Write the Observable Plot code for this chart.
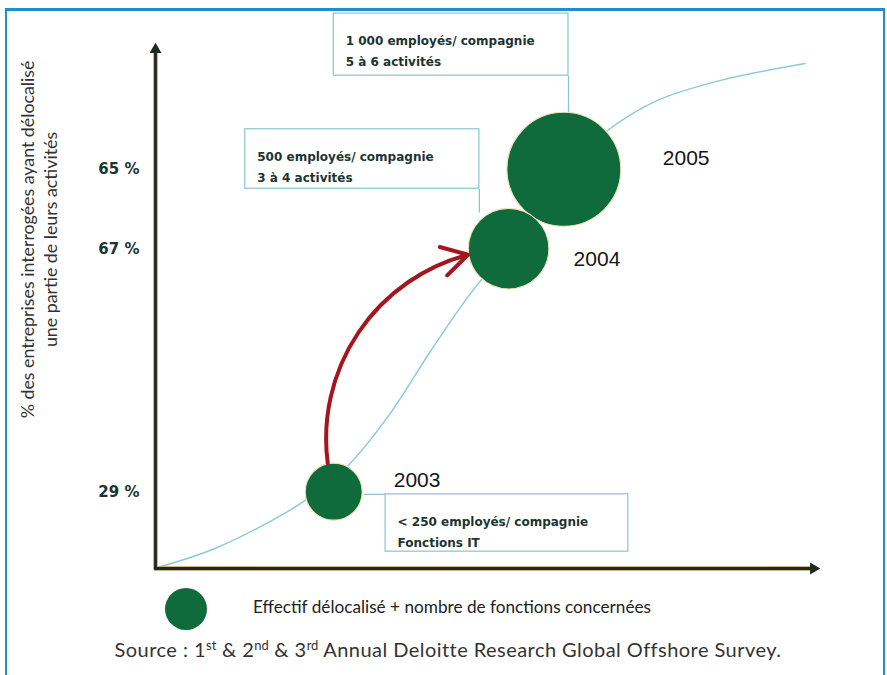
<!DOCTYPE html>
<html>
<head>
<meta charset="utf-8">
<script src="https://cdn.jsdelivr.net/npm/d3@7"></script>
<script src="https://cdn.jsdelivr.net/npm/@observablehq/plot@0.6"></script>
<style>
  html, body { margin: 0; padding: 0; background: #fff; }
  #page { position: relative; width: 887px; height: 675px; overflow: hidden; background: #fff; }
  #frame { position: absolute; left: 5px; top: 8px; width: 880px; height: 700px; box-sizing: border-box;
           border-left: 2.5px solid #1d8fd0; border-top: 3px solid #1d8fd0; border-right: 2.5px solid #1d8fd0; pointer-events: none; }
  #chart { position: absolute; left: 0; top: 0; }
  #legend { position: absolute; left: 0; top: 586px; width: 887px; height: 46px; font-family: Lato, sans-serif; }
  #legend svg { position: absolute; left: 164px; top: 1px; }
  #legend span { position: absolute; left: 253px; top: 10px; font-size: 17.2px; color: #222; white-space: nowrap; }
  #source { position: absolute; left: 0; top: 637px; width: 896px; text-align: center; font-family: Lato, sans-serif; font-size: 20px; letter-spacing: 0.45px; color: #333; white-space: nowrap; }
  #source sup { font-size: 13px; vertical-align: 7px; line-height: 0; letter-spacing: 0; }
</style>
</head>
<body>
<div id="page">
  <div id="chart"></div>
  <div id="legend"></div>
  <div id="source">Source : 1<sup>st</sup> &amp; 2<sup>nd</sup> &amp; 3<sup>rd</sup> Annual Deloitte Research Global Offshore Survey.</div>
  <div id="frame"></div>
</div>
<script>
// ---- Data ----
const years = ["2003", "2004", "2005"];
const employees = [250, 500, 1000];          // bubble size: employees per company
const pctLabels = ["29 %", "67 %", "65 %"];  // y tick labels as printed
const xLevel = [26.8, 53.1, 61.4];           // conceptual position along the x axis (0–100)
const yLevel = [14.6, 60.8, 75.9];           // conceptual position along the y axis (0–100)
const noteLines = [
  "< 250 employés/ compagnie\nFonctions IT",
  "500 employés/ compagnie\n3 à 4 activités",
  "1 000 employés/ compagnie\n5 à 6 activités"
];
// annotation boxes (axis units)
const noteX1 = [34.6, 13.5, 26.8];
const noteX2 = [71.1, 48.7, 62.1];
const noteY1 = [3.2, 72.2, 93.7];
const noteY2 = [14.1, 83.5, 105.5];
// leader lines from boxes to bubbles (axis units)
const leadX1 = [31.3, 48.7, 62.1];
const leadX2 = [34.6, 48.7, 62.1];
const leadY1 = [14.1, 72.2, 93.7];
const leadY2 = [14.1, 67.7, 86.5];
// faint S-curve (axis units)
const curveX = [0.3, 9.3, 21.4, 26.8, 29.3, 35.3, 41.4, 46.9, 51.9, 57.1, 62.4, 68.0, 75.5, 85.0, 97.7];
const curveY = [0.2, 4.0, 12.0, 17.1, 20.0, 29.5, 41.4, 51.5, 59.5, 68.1, 76.6, 83.3, 89.0, 92.8, 96.0];
const yTitle = "% des entreprises interrogées ayant délocalisé\nune partie de leurs activités";
const legendLabel = "Effectif délocalisé + nombre de fonctions concernées";

// ---- Tables built from the arrays ----
const bubbles = years.map((year, i) => ({year, employees: employees[i], x: xLevel[i], y: yLevel[i], pct: pctLabels[i]}));
const notes = noteLines.map((text, i) => ({text, x1: noteX1[i], x2: noteX2[i], y1: noteY1[i], y2: noteY2[i]}));
const leaders = leadX1.map((d, i) => ({x1: leadX1[i], x2: leadX2[i], y1: leadY1[i], y2: leadY2[i]}));
const curve = curveX.map((x, i) => ({x, y: curveY[i]}));
const yearShift = [[60, -11], [65, 11], [99, -11]];
const green = "#0f6a3c";
const axisColor = "#1d2a21";

const plot = Plot.plot({
  width: 887, height: 590,
  marginLeft: 155, marginRight: 67, marginTop: 42, marginBottom: 22,
  x: {domain: [0, 100], axis: null},
  y: {domain: [0, 100], axis: null},
  r: {domain: [0, 1000], range: [0, 57]},
  style: {background: "transparent", overflow: "visible"},
  marks: [
    Plot.text([yTitle], {frameAnchor: "left", textAnchor: "middle", lineAnchor: "middle", rotate: -90, dx: -117, dy: -66,
      fontFamily: "Lato", fontSize: 17.8, lineHeight: 1.3, fill: "#333"}),
    Plot.line(curve, {x: "x", y: "y", curve: "catmull-rom", stroke: "#8ccbd3", strokeWidth: 1.5}),
    Plot.link(leaders, {x1: "x1", y1: "y1", x2: "x2", y2: "y2", stroke: "#86c6cf", strokeWidth: 1.2}),
    Plot.rect(notes, {x1: "x1", x2: "x2", y1: "y1", y2: "y2", fill: "white", stroke: "#86c6cf", strokeWidth: 1.2}),
    Plot.text(notes, {x: "x1", y: "y2", text: "text", textAnchor: "start", lineAnchor: "top", dx: 12, dy: 17,
      fontFamily: "DejaVu Sans", fontWeight: "bold", fontSize: 12, lineHeight: 1.75, fill: "#1b3531"}),
    Plot.dot(bubbles, {x: "x", y: "y", r: "employees", fill: green, stroke: "#eee3b8", strokeWidth: 1.2}),
    ...bubbles.map((b, i) => Plot.text([b], {x: "x", y: "y", text: "year", textAnchor: "start", dx: yearShift[i][0], dy: yearShift[i][1],
      fontFamily: "Liberation Sans", fontSize: 21, fill: "#151515"})),
    Plot.arrow([{a: bubbles[0], b: bubbles[1]}], {x1: d => d.a.x, y1: d => d.a.y, x2: d => d.b.x, y2: d => d.b.y,
      bend: 52, insetStart: 29, insetEnd: 41, headLength: 11, headAngle: 60, stroke: "#a3161d", strokeWidth: 4}),
    // axes
    Plot.arrow([{x1: 0, y1: 0, x2: 0, y2: 100}, {x1: 0, y1: 0, x2: 100, y2: 0}], {x1: "x1", y1: "y1", x2: "x2", y2: "y2",
      headLength: 0, insetEnd: 8, stroke: "#c2a060", strokeWidth: 4.5}),
    Plot.arrow([{x1: 0, y1: 0, x2: 0, y2: 100}, {x1: 0, y1: 0, x2: 100, y2: 0}], {x1: "x1", y1: "y1", x2: "x2", y2: "y2",
      headLength: 0, insetEnd: 8, stroke: axisColor, strokeWidth: 2.8}),
    Plot.dot([{x: 0, y: 100}], {x: "x", y: "y", symbol: "triangle", r: 4.4, fill: axisColor, dy: 7}),
    Plot.dot([{x: 100, y: 0}], {x: "x", y: "y", symbol: "triangle", r: 4.4, fill: axisColor, rotate: 90, dx: -7}),
    Plot.axisY(yLevel, {tickFormat: d => pctLabels[yLevel.indexOf(d)], tickSize: 0, tickPadding: 16, label: null,
      fontFamily: "DejaVu Sans", fontWeight: "bold", fontSize: 15, fill: "#1b3531"})
  ]
});
document.getElementById("chart").appendChild(plot);

const legend = document.getElementById("legend");
legend.innerHTML = `<svg width="44" height="44"><circle cx="22" cy="22" r="21" fill="${green}"/></svg><span></span>`;
legend.querySelector("span").textContent = legendLabel;
</script>
</body>
</html>
